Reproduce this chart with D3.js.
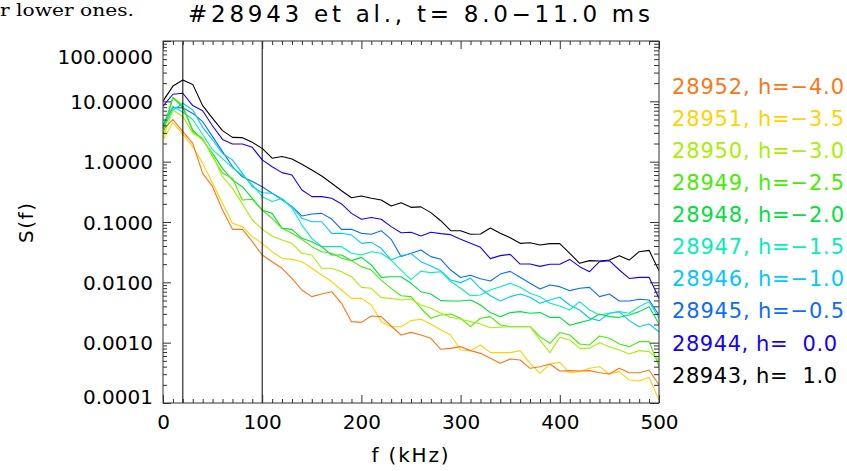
<!DOCTYPE html>
<html><head><meta charset="utf-8">
<script src="https://cdn.jsdelivr.net/npm/d3@7"></script>
<style>
html,body{margin:0;padding:0;background:#fff;}
svg{display:block;}
text{font-family:"DejaVu Sans",sans-serif;}
</style></head><body>
<svg id="chart" width="847" height="471"></svg>
<script>
const freq = [0,10,20,30,40,50,60,70,80,90,100,110,120,130,140,150,160,170,180,190,200,210,220,230,240,250,260,270,280,290,300,310,320,330,340,350,360,370,380,390,400,410,420,430,440,450,460,470,480,490,500];

const s28943 = [10.1,17.9,22.6,19.1,8.47,5.22,3.27,2.53,2.5,2.09,1.66,1.14,1.22,1.11,0.904,0.728,0.578,0.438,0.330,0.253,0.270,0.247,0.232,0.184,0.209,0.175,0.178,0.143,0.105,0.0718,0.0718,0.0625,0.0632,0.0796,0.0649,0.0550,0.0443,0.0454,0.0416,0.0438,0.0438,0.0303,0.0207,0.0229,0.0226,0.0234,0.0277,0.0234,0.0322,0.0339,0.0156];
const s28944 = [8.3,13.1,13.6,8.5,7.0,3.9,2.34,1.96,1.96,1.73,1.07,0.826,0.658,0.601,0.339,0.263,0.263,0.247,0.199,0.139,0.111,0.119,0.111,0.0838,0.0665,0.0675,0.0586,0.0675,0.0641,0.0617,0.0516,0.0443,0.0380,0.0247,0.0277,0.0291,0.0201,0.0201,0.0184,0.0199,0.0199,0.0240,0.0182,0.0150,0.0220,0.0229,0.0160,0.0116,0.0121,0.0121,0.00543];
const s28945 = [4.0,7.9,7.8,6.3,4.6,2.6,1.47,0.83,0.56,0.47,0.385,0.30,0.238,0.179,0.126,0.136,0.139,0.112,0.0755,0.0755,0.0649,0.0625,0.0718,0.0516,0.0267,0.0303,0.0344,0.0267,0.0241,0.0160,0.0120,0.0131,0.0115,0.0105,0.0137,0.0152,0.0121,0.00963,0.00776,0.00904,0.00848,0.00728,0.00796,0.00826,0.00579,0.00641,0.00491,0.00491,0.00524,0.00509,0.00288];
const s28946 = [3.5,7.1,9.3,7.2,3.7,2.29,1.37,1.07,0.641,0.385,0.306,0.30,0.232,0.179,0.115,0.101,0.101,0.0649,0.0649,0.061,0.0443,0.046,0.0366,0.0234,0.0275,0.030,0.022,0.0187,0.0156,0.0109,0.00989,0.0117,0.00796,0.006,0.00491,0.00579,0.00641,0.00565,0.00449,0.00509,0.00565,0.00421,0.00348,0.00254,0.00232,0.00307,0.00327,0.00232,0.00184,0.00204,0.00152];
const s28947 = [4.2,8.3,6.6,5.0,2.82,1.58,1.12,0.794,0.60,0.417,0.263,0.219,0.245,0.17,0.089,0.0536,0.039,0.039,0.039,0.0303,0.0284,0.0322,0.0303,0.0234,0.016,0.0111,0.0153,0.0145,0.015,0.0103,0.00796,0.006,0.00617,0.00746,0.00848,0.00963,0.00826,0.00658,0.00579,0.00449,0.00406,0.00348,0.00479,0.00348,0.00288,0.00307,0.00327,0.00307,0.00395,0.00479,0.00254];
const s28948 = [3.5,11.5,7.9,3.35,2.29,1.37,0.774,0.497,0.385,0.247,0.158,0.139,0.0785,0.0755,0.0536,0.0472,0.039,0.0284,0.0284,0.0229,0.0259,0.0194,0.0121,0.0124,0.0124,0.00963,0.0070,0.00641,0.00497,0.00491,0.00491,0.00509,0.00421,0.00315,0.0027,0.00315,0.00327,0.00307,0.00315,0.00263,0.00263,0.00194,0.00215,0.00238,0.00299,0.0027,0.00263,0.00288,0.00327,0.00395,0.00204];
const s28949 = [2.8,11.7,8.5,3.14,2.44,1.21,0.641,0.53,0.232,0.238,0.158,0.115,0.0785,0.0649,0.0516,0.039,0.0322,0.0303,0.025,0.0229,0.0182,0.016,0.0109,0.00794,0.006,0.00579,0.00372,0.00254,0.00288,0.00299,0.00254,0.00184,0.00254,0.0027,0.00196,0.00184,0.00184,0.00184,0.00126,0.000975,0.00147,0.00134,0.00095,0.000916,0.00129,0.00118,0.00095,0.000859,0.00104,0.00104,0.000411];
const s28950 = [2.5,7.1,5.6,2.95,2.34,1.29,0.564,0.361,0.20,0.108,0.0755,0.0586,0.0503,0.0443,0.0303,0.0284,0.0171,0.0171,0.015,0.0124,0.00826,0.00796,0.00557,0.00543,0.00509,0.0053,0.00421,0.00372,0.00307,0.00263,0.00244,0.00223,0.00204,0.00177,0.0018,0.00184,0.00184,0.00184,0.00111,0.000684,0.00123,0.00111,0.000805,0.000805,0.001,0.000859,0.000755,0.000649,0.000738,0.00071,0.000516];
const s28951 = [2.29,4.43,2.84,1.77,0.94,0.438,0.204,0.095,0.0838,0.0571,0.0443,0.0322,0.025,0.024,0.022,0.0171,0.0132,0.0103,0.00746,0.00543,0.00543,0.00421,0.00223,0.00184,0.00184,0.00232,0.00244,0.00204,0.00162,0.00134,0.000755,0.000738,0.000916,0.000684,0.000684,0.000684,0.000738,0.000455,0.00031,0.000444,0.000472,0.000318,0.000331,0.000376,0.0004,0.000303,0.000331,0.00024,0.000232,0.000267,0.000112];
const s28952 = [3.35,5.0,3.14,2.01,0.641,0.385,0.158,0.0755,0.076,0.0472,0.0284,0.022,0.0171,0.0116,0.00746,0.00579,0.00641,0.0070,0.00449,0.00223,0.00217,0.00277,0.0027,0.00189,0.00134,0.00148,0.00134,0.00118,0.000776,0.000805,0.000859,0.000738,0.000665,0.00055,0.000455,0.000537,0.000516,0.000376,0.0004,0.000444,0.00034,0.000344,0.00034,0.000344,0.000318,0.000303,0.000376,0.000318,0.000318,0.000352,0.000199];

const shots   = ["28952","28951","28950","28949","28948","28947","28946","28945","28944","28943"];
const hLabels = ["h=\u22124.0","h=\u22123.5","h=\u22123.0","h=\u22122.5","h=\u22122.0","h=\u22121.5","h=\u22121.0","h=\u22120.5","h=  0.0","h=  1.0"];
const seriesValues = [s28952,s28951,s28950,s28949,s28948,s28947,s28946,s28945,s28944,s28943];
const colors = ["#ff7514","#ffd200","#a8f000","#44ee00","#00e040","#00f0b8","#00c8ff","#0a6cff","#1400ff","#000000"];
const markerLines = [20,100];
const xTicks = [0,100,200,300,400,500];
const yTicks = [1e-4,1e-3,1e-2,1e-1,1,10,100];
const titleText = "#28943 et al., t= 8.0\u221211.0 ms";

const svg = d3.select("#chart");
const L = 163, R = 659, T = 41, B = 403;
const x = d3.scaleLinear().domain([0,500]).range([L,R]);
const y = d3.scaleLog().domain([1e-4,100]).range([B,T]);

// text fragment from the page above the figure
svg.append("text").attr("x",0).attr("y",16)
  .style("font-family","'DejaVu Serif','Liberation Serif',serif").style("font-size","16px")
  .attr("textLength",134).attr("lengthAdjust","spacingAndGlyphs")
  .text("r lower ones.");

// clip
svg.append("clipPath").attr("id","clip").append("rect")
  .attr("x",L).attr("y",T).attr("width",R-L).attr("height",B-T);

const line = d3.line().x((d,i)=>x(freq[i])).y(d=>y(d));
const g = svg.append("g").attr("clip-path","url(#clip)");
for (let k = seriesValues.length-1; k >= 0; k--) {
  g.append("path").datum(seriesValues[k]).attr("d",line)
   .attr("fill","none").attr("stroke",colors[k]).attr("stroke-width",1.1)
   .attr("stroke-linejoin","round");
}

// vertical markers
svg.selectAll(".vm").data(markerLines).enter().append("line")
  .attr("x1",d=>x(d)).attr("x2",d=>x(d)).attr("y1",T).attr("y2",B)
  .attr("stroke","#000").attr("stroke-width",1);

// minor tick values
const xMinor = d3.range(0,501,10).filter(v=>v%100!==0);
const yMinor = [];
[1e-4,1e-3,1e-2,1e-1,1,10].forEach(dec=>{ for(let m=2;m<=9;m++) yMinor.push(dec*m); });

const axCol = "#333";
function styleAxis(sel){
  sel.select(".domain").remove();
  sel.selectAll(".tick line").attr("stroke",axCol);
  sel.selectAll("text").style("font-family","'DejaVu Sans',sans-serif").style("font-size","20px").attr("fill","#000");
}
// bottom
const bx = svg.append("g").attr("transform",`translate(0,${B})`)
  .call(d3.axisBottom(x).tickValues(xTicks).tickSize(-8).tickFormat(d3.format("d")));
styleAxis(bx);
bx.selectAll("text").attr("dy","0.71em").attr("y",12);
svg.append("g").attr("transform",`translate(0,${B})`)
  .call(d3.axisBottom(x).tickValues(xMinor).tickSize(-4).tickFormat(""))
  .call(styleAxis);
// top
svg.append("g").attr("transform",`translate(0,${T})`)
  .call(d3.axisTop(x).tickValues(xTicks).tickSize(-8).tickFormat("")).call(styleAxis);
svg.append("g").attr("transform",`translate(0,${T})`)
  .call(d3.axisTop(x).tickValues(xMinor).tickSize(-4).tickFormat("")).call(styleAxis);
// left
const ly = svg.append("g").attr("transform",`translate(${L},0)`)
  .call(d3.axisLeft(y).tickValues(yTicks).tickSize(-8).tickFormat(d3.format(".4f")));
styleAxis(ly);
ly.selectAll(".tick text").attr("x",-10)
  .attr("dy",d=> d===100 ? "1.1em" : (d===1e-4 ? "0.02em" : "0.36em"));
svg.append("g").attr("transform",`translate(${L},0)`)
  .call(d3.axisLeft(y).tickValues(yMinor).tickSize(-4).tickFormat("")).call(styleAxis);
// right
svg.append("g").attr("transform",`translate(${R},0)`)
  .call(d3.axisRight(y).tickValues(yTicks).tickSize(-9).tickFormat("")).call(styleAxis);
svg.append("g").attr("transform",`translate(${R},0)`)
  .call(d3.axisRight(y).tickValues(yMinor).tickSize(-5).tickFormat("")).call(styleAxis);

// frame
svg.append("rect").attr("x",L).attr("y",T).attr("width",R-L).attr("height",B-T)
  .attr("fill","none").attr("stroke",axCol).attr("stroke-width",1);

// title
svg.append("text").attr("x",188).attr("y",22)
  .style("font-size","23px").attr("textLength",462).attr("lengthAdjust","spacing")
  .text(titleText);

// axis labels
svg.append("text").attr("x",410).attr("y",462).attr("text-anchor","middle")
  .style("font-size","20px").attr("textLength",77).attr("lengthAdjust","spacing")
  .text("f (kHz)");
svg.append("text").attr("transform","translate(33,223) rotate(-90)").attr("text-anchor","middle")
  .style("font-size","20px").attr("textLength",40).attr("lengthAdjust","spacing")
  .text("S(f)");

// legend
const lg = svg.append("g");
shots.forEach((s,i)=>{
  const cy = 86.7 + i*32.04;
  lg.append("text").attr("x",672).attr("y",cy+7.5)
    .attr("fill",colors[i]).style("font-size","21px").style("white-space","pre")
    .attr("xml:space","preserve")
    .attr("textLength", hLabels[i].indexOf("\u2212")>=0 ? 172 : 165).attr("lengthAdjust","spacing")
    .text(s + ", " + hLabels[i]);
});
</script>
</body></html>
